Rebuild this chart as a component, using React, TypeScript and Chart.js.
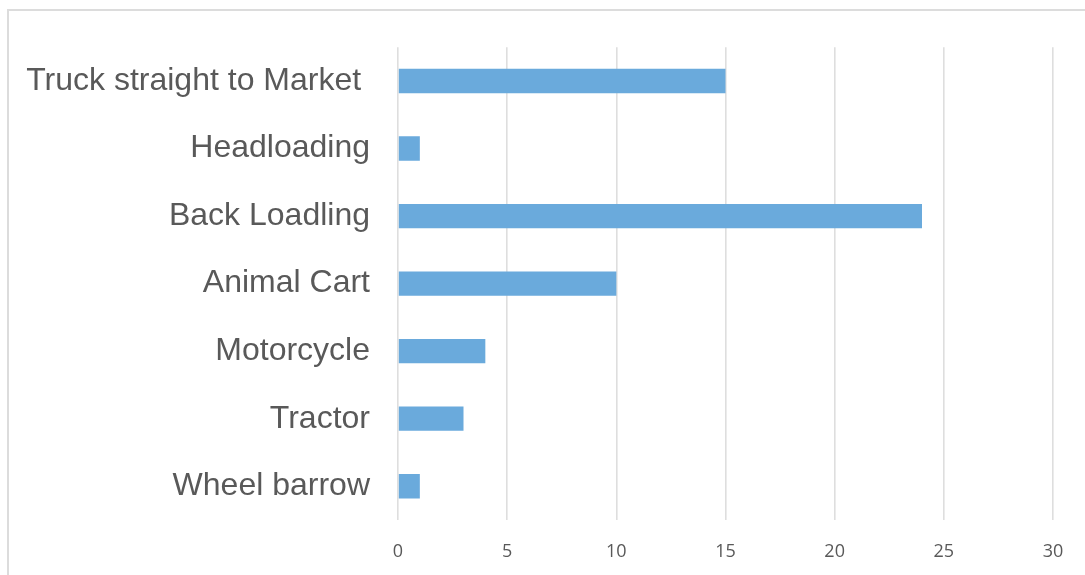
import React, { useEffect, useRef } from "react";
import { Chart, registerables } from "chart.js";

Chart.register(...registerables);

const categories = [
  "Truck straight to Market ",
  "Headloading",
  "Back Loadling",
  "Animal Cart",
  "Motorcycle",
  "Tractor",
  "Wheel barrow",
];
const values = [15, 1, 24, 10, 4, 3, 1];
const xMin = 0;
const xMax = 30;
const xStep = 5;

const framePlugin = {
  id: "frame",
  beforeDraw(chart: any) {
    const ctx = chart.ctx;
    ctx.save();
    ctx.strokeStyle = "#dcdcdc";
    ctx.lineWidth = 2;
    ctx.beginPath();
    ctx.moveTo(8, 575);
    ctx.lineTo(8, 10);
    ctx.lineTo(1085, 10);
    ctx.stroke();
    ctx.restore();
  },
};

export default function App() {
  const ref = useRef<HTMLCanvasElement | null>(null);
  useEffect(() => {
    if (!ref.current) return;
    const chart = new Chart(ref.current, {
      type: "bar",
      data: {
        labels: categories,
        datasets: [
          {
            data: values,
            backgroundColor: "#6aaadc",
            borderWidth: 0,
            barPercentage: 0.36,
            categoryPercentage: 1,
          },
        ],
      },
      options: {
        indexAxis: "y",
        animation: false,
        responsive: false,
        maintainAspectRatio: false,
        layout: { padding: { left: 0, top: 44, right: 32, bottom: 0 } },
        plugins: {
          legend: { display: false },
          tooltip: { enabled: false },
        },
        scales: {
          x: {
            min: xMin,
            max: xMax,
            ticks: {
              stepSize: xStep,
              color: "#595959",
              padding: 21,
              font: { family: "'Open Sans', 'Liberation Sans', sans-serif", size: 18 },
            },
            grid: { color: "#dedede", lineWidth: 1.6, drawTicks: false },
            border: { display: false },
            afterFit: (s: any) => {
              s.height = 55;
            },
          },
          y: {
            ticks: {
              color: "#595959",
              padding: 28,
              font: { family: "'Liberation Sans', Arial, sans-serif", size: 32 },
            },
            grid: { display: false, drawTicks: false },
            border: { display: false },
            afterFit: (s: any) => {
              s.width = 398;
            },
          },
        },
      },
      plugins: [framePlugin],
    });
    return () => chart.destroy();
  }, []);
  return (
    <div style={{ position: "fixed", left: 0, top: 0, width: 1085, height: 575, background: "#fff" }}>
      <canvas ref={ref} width={1085} height={575} style={{ display: "block" }} />
    </div>
  );
}
